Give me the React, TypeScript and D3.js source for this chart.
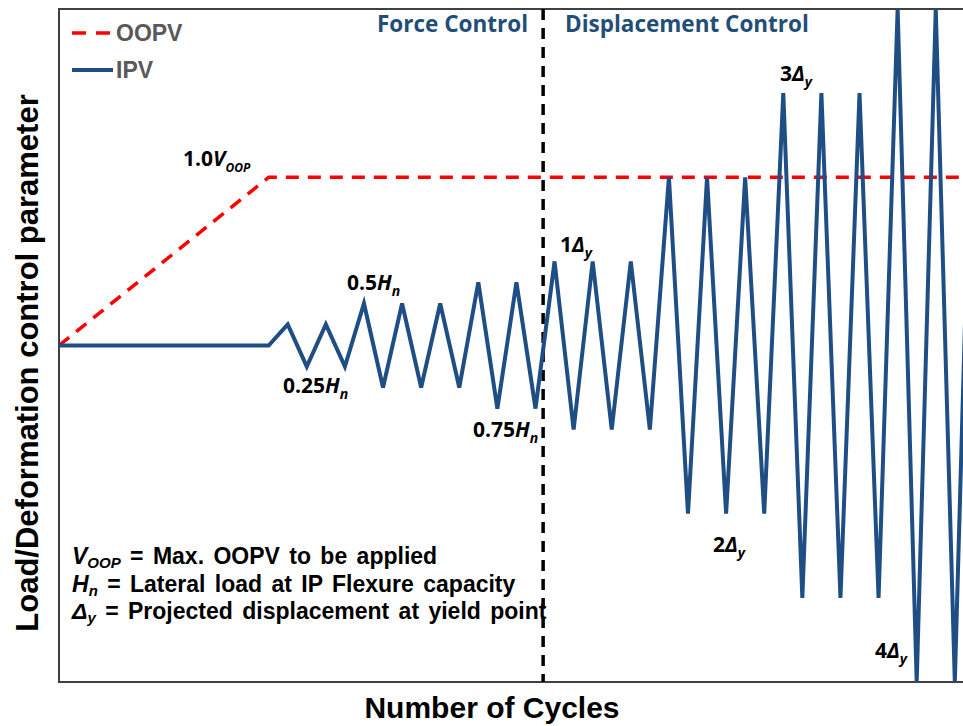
import React, { useEffect, useRef } from "react";
import * as d3 from "d3";

// loading protocol, x = half-cycle index, y = level in units of Δy (= Hn)
const oopvCycle = [0, 11, 48];
const oopvLevel = [0, 2, 2];

const ipvCycle = [
  0, 11, 12, 13, 14, 15, 16, 17, 18, 19, 20, 21, 22, 23, 24, 25, 26, 27, 28,
  29, 30, 31, 32, 33, 34, 35, 36, 37, 38, 39, 40, 41, 42, 43, 44, 45, 46, 47,
  48,
];
const ipvLevel = [
  0, 0, 0.25, -0.25, 0.25, -0.25, 0.5, -0.5, 0.5, -0.5, 0.5, -0.5, 0.75, -0.75,
  0.75, -0.75, 1, -1, 1, -1, 1, -1, 2, -2, 2, -2, 2, -2, 3, -3, 3, -3, 3, -3, 4,
  -4, 4, -4, 4,
];

const boundaryCycle = 25.4;

const phaseLabels = ["Force Control", "Displacement Control"];
const legendLabels = ["OOPV", "IPV"];
const notes = [
  ["V", "OOP", " = Max. OOPV to be applied"],
  ["H", "n", " = Lateral load at IP Flexure capacity"],
  ["Δ", "y", " = Projected displacement at yield point"],
];

const W = 963;
const H = 726;
const ARIAL = "'Liberation Sans', Arial, sans-serif";
const CAL = "'Open Sans', Lato, sans-serif";
const BLUE = "#1f4e85";

type Part = { t: string; it?: boolean; sub?: boolean };

const App: React.FC = () => {
  const svgRef = useRef<SVGSVGElement>(null);

  useEffect(() => {
    if (!svgRef.current) return;
    const svg = d3.select(svgRef.current);
    svg.selectAll("*").remove();

    const left = 59;
    const top = 9;
    const bottom = 682;

    const x = d3.scaleLinear().domain([0, 47.5]).range([left, left + 47.5 * 19.06]);
    const y = d3.scaleLinear().domain([-4, 4]).range([bottom, top]);

    svg
      .append("defs")
      .append("clipPath")
      .attr("id", "plot-clip")
      .append("rect")
      .attr("x", left)
      .attr("y", top)
      .attr("width", W)
      .attr("height", bottom - top);

    // frame (open on the right)
    svg
      .append("path")
      .attr("d", `M${W + 5},${top}H${left}V${bottom}H${W + 5}`)
      .attr("fill", "none")
      .attr("stroke", "#404040")
      .attr("stroke-width", 2);

    const line = d3
      .line<[number, number]>()
      .x((d) => x(d[0]))
      .y((d) => y(d[1]));

    const plot = svg.append("g").attr("clip-path", "url(#plot-clip)");

    plot
      .append("path")
      .attr("d", line(oopvCycle.map((c, i) => [c, oopvLevel[i]])))
      .attr("fill", "none")
      .attr("stroke", "#ff0000")
      .attr("stroke-width", 3.5)
      .attr("stroke-dasharray", "13,9");

    plot
      .append("line")
      .attr("x1", x(boundaryCycle))
      .attr("x2", x(boundaryCycle))
      .attr("y1", top)
      .attr("y2", bottom)
      .attr("stroke", "#000")
      .attr("stroke-width", 3.5)
      .attr("stroke-dasharray", "11,8");

    plot
      .append("path")
      .attr("d", line(ipvCycle.map((c, i) => [c, ipvLevel[i]])))
      .attr("fill", "none")
      .attr("stroke", BLUE)
      .attr("stroke-width", 4);

    // legend
    svg
      .append("line")
      .attr("x1", 72)
      .attr("x2", 110)
      .attr("y1", 33)
      .attr("y2", 33)
      .attr("stroke", "#ff0000")
      .attr("stroke-width", 3.5)
      .attr("stroke-dasharray", "14,10");
    svg
      .append("line")
      .attr("x1", 72)
      .attr("x2", 113)
      .attr("y1", 70)
      .attr("y2", 70)
      .attr("stroke", BLUE)
      .attr("stroke-width", 4);
    legendLabels.forEach((l, i) => {
      svg
        .append("text")
        .attr("x", 116)
        .attr("y", 41 + i * 37)
        .attr("font-family", ARIAL)
        .attr("font-weight", "bold")
        .attr("font-size", 23)
        .attr("fill", "#595959")
        .text(l);
    });

    // phase labels
    [377, 565].forEach((px, i) => {
      svg
        .append("text")
        .attr("x", px)
        .attr("y", 32)
        .attr("font-family", CAL)
        .attr("font-weight", "bold")
        .attr("font-size", 22.5)
        .attr("fill", "#1f4e79")
        .text(phaseLabels[i]);
    });

    const rich = (
      px: number,
      py: number,
      parts: Part[],
      family: string,
      size: number,
      subSize: number,
      shift = 0.28,
    ) => {
      const t = svg
        .append("text")
        .attr("x", px)
        .attr("y", py)
        .attr("font-family", family)
        .attr("font-weight", "bold")
        .attr("font-size", size)
        .attr("fill", "#000");
      let shifted = false;
      parts.forEach((p) => {
        const s = t.append("tspan").text(p.t);
        if (p.it) s.attr("font-style", "italic");
        if (p.sub) {
          s.attr("font-size", subSize).attr("dy", size * shift);
          shifted = true;
        } else if (shifted) {
          s.attr("dy", -size * shift);
          shifted = false;
        }
      });
      return t;
    };

    // annotations
    rich(183, 166, [{ t: "1.0" }, { t: "V", it: true }, { t: "OOP", it: true, sub: true }], CAL, 21, 12);
    rich(347, 290, [{ t: "0.5" }, { t: "H", it: true }, { t: "n", it: true, sub: true }], CAL, 21, 14);
    rich(283, 393, [{ t: "0.25" }, { t: "H", it: true }, { t: "n", it: true, sub: true }], CAL, 21, 14);
    rich(473, 437, [{ t: "0.75" }, { t: "H", it: true }, { t: "n", it: true, sub: true }], CAL, 21, 14);
    rich(560, 252, [{ t: "1" }, { t: "Δ", it: true }, { t: "y", it: true, sub: true }], CAL, 21, 14);
    rich(780, 81, [{ t: "3" }, { t: "Δ", it: true }, { t: "y", it: true, sub: true }], CAL, 21, 14);
    rich(713, 552, [{ t: "2" }, { t: "Δ", it: true }, { t: "y", it: true, sub: true }], CAL, 21, 14);
    rich(875, 658, [{ t: "4" }, { t: "Δ", it: true }, { t: "y", it: true, sub: true }], CAL, 21, 14);

    // notes block
    notes.forEach((n, i) => {
      rich(
        72,
        564 + i * 27.5,
        [{ t: n[0], it: true }, { t: n[1], it: true, sub: true }, { t: n[2] }],
        ARIAL,
        23,
        15,
        0.18,
      ).attr("word-spacing", 3);
    });

    // axis titles
    svg
      .append("text")
      .attr("x", 492)
      .attr("y", 718)
      .attr("text-anchor", "middle")
      .attr("font-family", ARIAL)
      .attr("font-weight", "bold")
      .attr("font-size", 30)
      .text("Number of Cycles");

    svg
      .append("text")
      .attr("transform", "rotate(-90)")
      .attr("x", -363)
      .attr("y", 38)
      .attr("text-anchor", "middle")
      .attr("font-family", ARIAL)
      .attr("font-weight", "bold")
      .attr("font-size", 31)
      .text("Load/Deformation control parameter");
  }, []);

  return (
    <svg
      ref={svgRef}
      width={W}
      height={H}
      style={{ position: "absolute", left: 0, top: 0, background: "#fff" }}
    ></svg>
  );
};

export default App;
